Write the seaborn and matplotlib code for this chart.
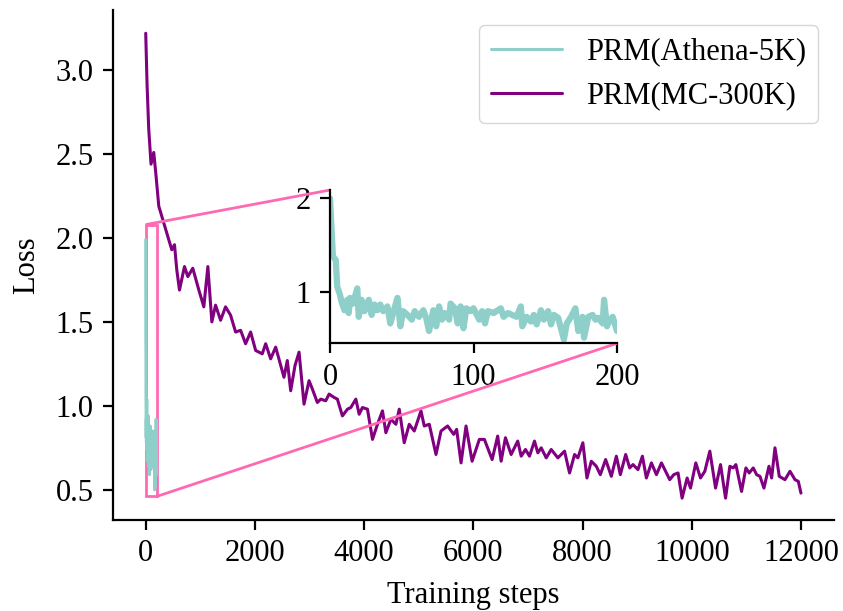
import numpy as np
import pandas as pd
import seaborn as sns
import matplotlib.pyplot as plt
from mpl_toolkits.axes_grid1.inset_locator import mark_inset

sns.set_style("ticks")
plt.rcParams['font.family'] = ['Liberation Serif', 'DejaVu Serif']
plt.rcParams['font.size'] = 22
plt.rcParams['axes.edgecolor'] = 'black'
plt.rcParams['xtick.color'] = 'black'
plt.rcParams['ytick.color'] = 'black'
plt.rcParams['text.color'] = 'black'
plt.rcParams['axes.labelcolor'] = 'black'

# PRM(MC-300K) loss curve
mc_steps = [0, 25, 55, 97, 147, 189, 239, 330, 422, 477, 527, 569, 618, 710, 771, 862, 973,
            1064, 1138, 1211, 1279, 1371, 1462, 1554, 1646, 1738, 1829, 1921, 2013, 2134,
            2197, 2288, 2380, 2532, 2593, 2655, 2734, 2808, 2899, 2991, 3052, 3143, 3206,
            3297, 3358, 3450, 3510, 3602, 3694, 3756, 3848, 3909, 3969, 4061, 4153, 4244,
            4336, 4398, 4490, 4582, 4643, 4734, 4826, 4918, 5041, 5101, 5193, 5316, 5408,
            5529, 5640, 5694, 5775, 5866, 5977, 6110, 6202, 6344, 6446, 6509, 6588, 6692,
            6813, 6876, 6955, 7028, 7120, 7181, 7243, 7335, 7426, 7548, 7670, 7762, 7854,
            7914, 8006, 8080, 8160, 8252, 8325, 8423, 8527, 8619, 8692, 8790, 8863, 8924,
            9015, 9096, 9169, 9261, 9353, 9445, 9597, 9670, 9749, 9823, 9915, 9977, 10074,
            10160, 10239, 10331, 10436, 10527, 10619, 10698, 10759, 10808, 10912, 10992,
            11052, 11126, 11188, 11249, 11322, 11414, 11463, 11524, 11603, 11707, 11799,
            11891, 11951, 12000]
mc_loss = [3.22, 2.91, 2.65, 2.44, 2.51, 2.37, 2.19, 2.09, 1.99, 1.93, 1.96, 1.81, 1.69, 1.83,
           1.77, 1.82, 1.69, 1.59, 1.83, 1.50, 1.60, 1.51, 1.59, 1.54, 1.44, 1.45, 1.37, 1.44,
           1.33, 1.31, 1.37, 1.28, 1.35, 1.17, 1.27, 1.09, 1.24, 1.32, 1.01, 1.15, 1.10, 1.02,
           1.04, 1.03, 1.07, 1.05, 1.04, 0.94, 0.98, 0.99, 1.04, 0.95, 0.99, 0.98, 0.80, 0.89,
           0.97, 0.84, 0.92, 0.89, 0.98, 0.78, 0.89, 0.85, 0.97, 0.88, 0.89, 0.71, 0.85, 0.88,
           0.83, 0.86, 0.66, 0.88, 0.67, 0.80, 0.80, 0.68, 0.82, 0.67, 0.81, 0.71, 0.79, 0.70,
           0.74, 0.70, 0.79, 0.72, 0.75, 0.69, 0.74, 0.69, 0.73, 0.60, 0.71, 0.69, 0.78, 0.57,
           0.67, 0.64, 0.59, 0.68, 0.58, 0.70, 0.59, 0.71, 0.63, 0.65, 0.62, 0.70, 0.57, 0.66,
           0.59, 0.66, 0.56, 0.59, 0.60, 0.45, 0.57, 0.51, 0.66, 0.57, 0.61, 0.73, 0.51, 0.65,
           0.45, 0.64, 0.63, 0.65, 0.49, 0.63, 0.60, 0.63, 0.59, 0.58, 0.51, 0.64, 0.57, 0.75,
           0.58, 0.56, 0.61, 0.56, 0.55, 0.48]

# PRM(Athena-5K) loss curve
athena_steps = [0, 2, 4, 5, 7, 8, 10, 12, 13, 14, 16, 19, 20, 22, 24, 27, 29, 31, 33, 35, 37,
                40, 42, 44, 47, 49, 51, 54, 57, 59, 62, 65, 67, 69, 72, 74, 76, 78, 80, 83, 84,
                87, 89, 91, 93, 95, 98, 100, 104, 106, 108, 110, 114, 116, 119, 121, 124, 127,
                130, 133, 134, 137, 140, 142, 144, 147, 149, 152, 154, 156, 159, 163, 165, 168,
                171, 173, 176, 177, 180, 183, 185, 187, 190, 191, 193, 195, 197, 200]
athena_loss = [1.99, 1.38, 1.34, 1.06, 0.97, 0.90, 0.81, 0.92, 0.78, 0.94, 0.88, 1.04, 0.74,
               0.92, 0.80, 0.92, 0.76, 0.87, 0.81, 0.87, 0.80, 0.85, 0.67, 0.78, 0.94, 0.64,
               0.80, 0.76, 0.71, 0.80, 0.74, 0.81, 0.73, 0.59, 0.81, 0.64, 0.85, 0.71, 0.78,
               0.71, 0.88, 0.83, 0.67, 0.85, 0.62, 0.83, 0.80, 0.83, 0.71, 0.80, 0.67, 0.80,
               0.78, 0.80, 0.83, 0.74, 0.78, 0.76, 0.74, 0.85, 0.64, 0.74, 0.69, 0.76, 0.66,
               0.81, 0.71, 0.80, 0.66, 0.76, 0.73, 0.50, 0.67, 0.74, 0.83, 0.59, 0.74, 0.52,
               0.74, 0.76, 0.71, 0.73, 0.67, 0.92, 0.64, 0.71, 0.74, 0.59]

teal = '#8ECFC9'
purple = '#800080'

df_mc = pd.DataFrame({'step': mc_steps, 'loss': mc_loss})
df_at = pd.DataFrame({'step': athena_steps, 'loss': athena_loss})

fig = plt.figure(figsize=(8.43, 6.11), dpi=100)
ax = fig.add_axes([0.134, 0.149, 0.855, 0.835])

sns.lineplot(data=df_at, x='step', y='loss', ax=ax, color=teal, lw=2.2,
             estimator=None, label='PRM(Athena-5K)')
sns.lineplot(data=df_mc, x='step', y='loss', ax=ax, color=purple, lw=2.2,
             estimator=None, label='PRM(MC-300K)')

ax.set_xlim(-600, 12600)
ax.set_ylim(0.32, 3.36)
ax.set_xticks(np.arange(0, 12001, 2000))
ax.set_yticks([0.5, 1.0, 1.5, 2.0, 2.5, 3.0])
ax.set_xlabel('Training steps', labelpad=9)
ax.set_ylabel('Loss', labelpad=10)
ax.tick_params(length=7, width=1.6, pad=7, labelsize=22)
for s in ax.spines.values():
    s.set_linewidth(1.6)
sns.despine(ax=ax)
ax.legend(loc='upper right', fontsize=22, handlelength=2.3)

# zoomed inset for the first 200 steps
axins = fig.add_axes([0.3915, 0.4381, 0.3404, 0.2509])
sns.lineplot(data=df_at, x='step', y='loss', ax=axins, color=teal, lw=4.5,
             estimator=None, legend=False)
axins.set_xlim(0, 200)
axins.set_ylim(0.46, 2.08)
axins.set_xticks([0, 100, 200])
axins.set_yticks([1, 2])
axins.set_xlabel('')
axins.set_ylabel('')
axins.tick_params(length=7, width=1.6, pad=7, labelsize=22)
for s in axins.spines.values():
    s.set_linewidth(1.6)
sns.despine(ax=axins)

mark_inset(ax, axins, loc1=2, loc2=4, fc='none', ec='hotpink', lw=2)

fig.savefig('out.png', dpi=100)
